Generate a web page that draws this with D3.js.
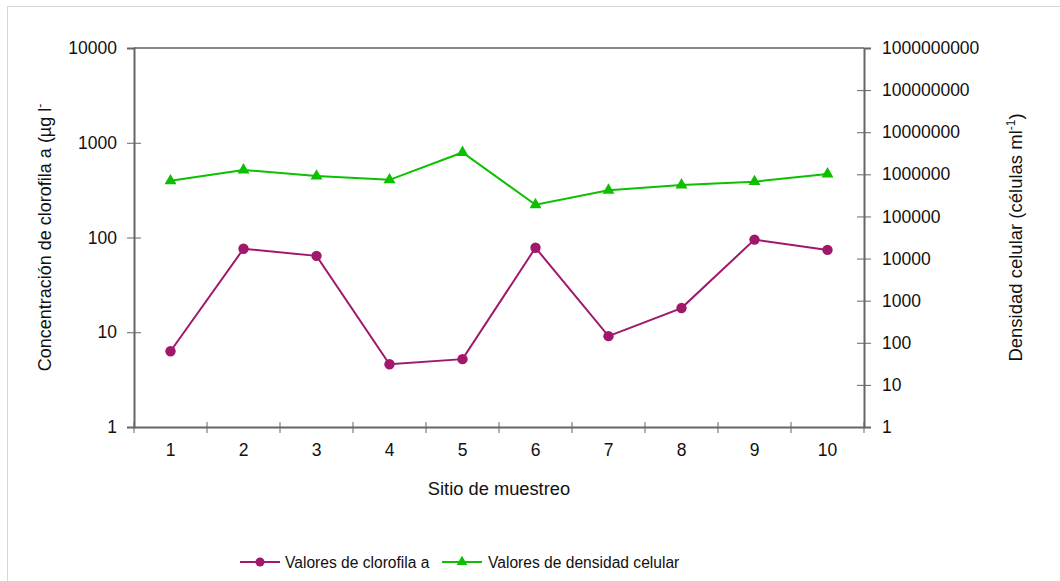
<!DOCTYPE html>
<html>
<head>
<meta charset="utf-8">
<script src="https://cdn.jsdelivr.net/npm/d3@7"></script>
<style>
  html, body { margin: 0; padding: 0; background: #fff; }
  svg text { font-family: "Liberation Sans", Arial, sans-serif; fill: #111; }
</style>
</head>
<body>
<svg id="chart" width="1060" height="581"></svg>
<script>
// Sampling sites and measured values
const sites = [1, 2, 3, 4, 5, 6, 7, 8, 9, 10];
const clorofila = [6.3, 76, 64, 4.6, 5.2, 78, 9.1, 18, 95, 74];          // µg l-1
const densidad = [700000, 1270000, 910000, 740000, 3300000, 190000, 420000, 560000, 670000, 1020000]; // células ml-1
const leftTicks = [1, 10, 100, 1000, 10000];
const rightTicks = [1, 10, 100, 1000, 10000, 100000, 1000000, 10000000, 100000000, 1000000000];

const colClor = "#a0186b";
const colDens = "#0cc000";
const axisCol = "#666";

const svg = d3.select("#chart");
const m = { left: 134, right: 864, top: 48, bottom: 427 };

// outer frame
svg.append("rect").attr("x", 7.5).attr("y", 6.5).attr("width", 1100).attr("height", 700)
  .attr("fill", "none").attr("stroke", "#d8d8d8").attr("stroke-width", 1);

const x = d3.scaleBand().domain(sites).range([m.left, m.right]);
const yL = d3.scaleLog().domain([1, 10000]).range([m.bottom, m.top]);
const yR = d3.scaleLog().domain([1, 1e9]).range([m.bottom, m.top]);

// plot frame (top line)
svg.append("line").attr("x1", m.left).attr("x2", m.right).attr("y1", m.top).attr("y2", m.top)
  .attr("stroke", "#888").attr("stroke-width", 2);

function styleAxis(g) {
  g.selectAll("path").attr("stroke", axisCol).attr("stroke-width", 2);
  g.selectAll(".tick line").attr("stroke", axisCol).attr("stroke-width", 1);
  g.selectAll("text").style("font-size", "17.5px").attr("fill", "#111");
}

// left axis (cross ticks)
const gL = svg.append("g").attr("transform", `translate(${m.left},0)`)
  .call(d3.axisLeft(yL).tickValues(leftTicks).tickFormat(d3.format("d")).tickSizeOuter(0).tickSize(7).tickPadding(10));
gL.selectAll(".tick line").attr("x2", -7).attr("x1", 7);
gL.selectAll(".tick").filter(d => d === 10000 || d === 1).select("line").attr("x1", 0);
styleAxis(gL);

// right axis
const gR = svg.append("g").attr("transform", `translate(${m.right},0)`)
  .call(d3.axisRight(yR).tickValues(rightTicks).tickFormat(d3.format("d")).tickSizeOuter(0).tickSize(7).tickPadding(11));
gR.selectAll(".tick line").attr("x1", -7).attr("x2", 7);
gR.selectAll(".tick").filter(d => d === 1e9).select("line").attr("x1", 0);
gR.selectAll(".tick").filter(d => d === 1).select("line").attr("x1", 0);
styleAxis(gR);

// bottom axis: ticks at band boundaries, labels at centers
const gB = svg.append("g").attr("transform", `translate(0,${m.bottom})`)
  .call(d3.axisBottom(x).tickSize(0).tickPadding(17));
gB.selectAll("path").attr("stroke", axisCol).attr("stroke-width", 2);
gB.selectAll("text").style("font-size", "17.5px").attr("fill", "#111");
const bounds = sites.map(s => x(s)).concat([x(sites[sites.length - 1]) + x.bandwidth()]);
gB.selectAll("line.sep").data(bounds).enter().append("line").attr("class", "sep")
  .attr("x1", d => d).attr("x2", d => d).attr("y1", -5).attr("y2", 6)
  .attr("stroke", axisCol).attr("stroke-width", 1);

const cx = d => x(d) + x.bandwidth() / 2;

// chlorophyll series
svg.append("path").datum(sites.map((s, i) => [s, clorofila[i]]))
  .attr("fill", "none").attr("stroke", colClor).attr("stroke-width", 2)
  .attr("d", d3.line().x(d => cx(d[0])).y(d => yL(d[1])));
svg.selectAll("circle.c").data(sites.map((s, i) => [s, clorofila[i]])).enter()
  .append("circle").attr("class", "c").attr("cx", d => cx(d[0])).attr("cy", d => yL(d[1]))
  .attr("r", 5.2).attr("fill", colClor);

// cell density series
const tri = d3.symbol().type(d3.symbolTriangle).size(62);
svg.append("path").datum(sites.map((s, i) => [s, densidad[i]]))
  .attr("fill", "none").attr("stroke", colDens).attr("stroke-width", 2)
  .attr("d", d3.line().x(d => cx(d[0])).y(d => yR(d[1])));
svg.selectAll("path.t").data(sites.map((s, i) => [s, densidad[i]])).enter()
  .append("path").attr("class", "t").attr("d", tri)
  .attr("transform", d => `translate(${cx(d[0])},${yR(d[1])})`).attr("fill", colDens);

// axis titles
const lt = svg.append("text").attr("transform", `translate(51,${(m.top + m.bottom) / 2}) rotate(-90)`)
  .attr("text-anchor", "middle").style("font-size", "18px");
lt.append("tspan").text("Concentración de clorofila a (µg l");
lt.append("tspan").attr("dy", -7).style("font-size", "12px").text("-");

const rt = svg.append("text").attr("transform", `translate(1022,${(m.top + m.bottom) / 2}) rotate(-90)`)
  .attr("text-anchor", "middle").style("font-size", "18.5px");
rt.append("tspan").text("Densidad celular (células ml");
rt.append("tspan").attr("dy", -7).style("font-size", "12px").text("-1");
rt.append("tspan").attr("dy", 7).text(")");

svg.append("text").attr("x", (m.left + m.right) / 2).attr("y", 495)
  .attr("text-anchor", "middle").style("font-size", "18.3px").text("Sitio de muestreo");

// legend
const lg = svg.append("g").attr("transform", "translate(0,562)");
lg.append("line").attr("x1", 240).attr("x2", 280).attr("stroke", colClor).attr("stroke-width", 2);
lg.append("circle").attr("cx", 260).attr("r", 4.5).attr("fill", colClor);
lg.append("text").attr("x", 285).attr("y", 6).style("font-size", "15.6px").text("Valores de clorofila a");
lg.append("line").attr("x1", 442).attr("x2", 482).attr("stroke", colDens).attr("stroke-width", 2);
lg.append("path").attr("d", d3.symbol().type(d3.symbolTriangle).size(50)).attr("transform", "translate(462,0)").attr("fill", colDens);
lg.append("text").attr("x", 488).attr("y", 6).style("font-size", "15.6px").text("Valores de densidad celular");
</script>
</body>
</html>
